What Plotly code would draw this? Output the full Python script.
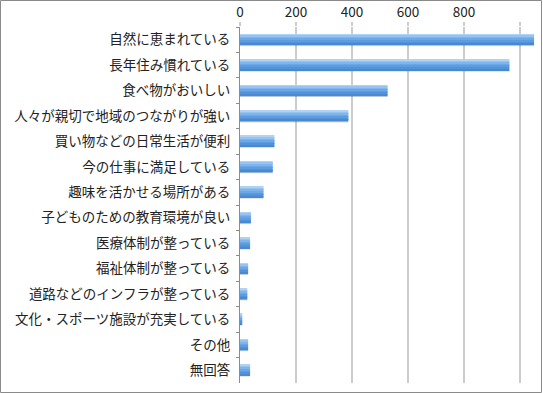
import plotly.graph_objects as go

categories = [
    "自然に恵まれている",
    "長年住み慣れている",
    "食べ物がおいしい",
    "人々が親切で地域のつながりが強い",
    "買い物などの日常生活が便利",
    "今の仕事に満足している",
    "趣味を活かせる場所がある",
    "子どものための教育環境が良い",
    "医療体制が整っている",
    "福祉体制が整っている",
    "道路などのインフラが整っている",
    "文化・スポーツ施設が充実している",
    "その他",
    "無回答",
]
values = [1050, 962, 527, 387, 123, 117, 84, 39, 36, 29, 26, 8, 29, 36]
tick_values = [0, 200, 400, 600, 800, 1000]
tick_labels = ["0", "200", "400", "600", "800", ""]

W, H = 543, 393
ML, MR, MT, MB = 240, 7, 27, 10
PW, PH = W - ML - MR, H - MT - MB

fig = go.Figure()

# gradient bars built from slices (top -> bottom)
bar_w = 0.43
slice_colors = ["#B0D2F3", "#97C3F0", "#80B5EC", "#6CA8E7", "#5C9CE0", "#5192D8", "#4A89CF"]
n = len(slice_colors)
sw = bar_w / n
# shadow
fig.add_trace(go.Bar(
    y=categories, x=values, orientation="h",
    width=0.06, offset=bar_w / 2 - 0.02,
    marker=dict(color="rgba(0,0,0,0.13)", line=dict(width=0)),
    hoverinfo="skip", showlegend=False,
))
for i, c in enumerate(slice_colors):
    fig.add_trace(go.Bar(
        y=categories, x=values, orientation="h",
        width=sw * 1.08, offset=-bar_w / 2 + i * sw,
        marker=dict(color=c, line=dict(width=0)),
        showlegend=False,
    ))

fig.update_layout(
    width=W, height=H,
    margin=dict(l=ML, r=MR, t=MT, b=MB, pad=0, autoexpand=False),
    barmode="overlay",
    paper_bgcolor="white",
    plot_bgcolor="white",
    font=dict(family="Noto Sans CJK JP", size=13.5, color="#222222"),
    xaxis=dict(
        side="top",
        automargin=False,
        range=[0, 1057],
        tickvals=tick_values,
        ticktext=tick_labels,
        showgrid=True, gridcolor="#CCCCCC", gridwidth=2,
        zeroline=False, showline=False,
        ticks="outside", ticklen=4, tickcolor="#CCCCCC", tickwidth=2,
        tickfont=dict(size=13.5, color="#222222"),
    ),
    yaxis=dict(
        type="category",
        automargin=False,
        categoryorder="array", categoryarray=categories,
        range=[len(categories) - 0.5, -0.5],
        showline=True, linecolor="#8C8C8C", linewidth=1,
        ticks="outside", ticklen=3, tickcolor="#8C8C8C",
        tickson="boundaries",
        ticklabelstandoff=6,
        showgrid=False, zeroline=False,
        tickfont=dict(size=13.5, color="#222222"),
    ),
    shapes=[dict(
        type="rect", xref="paper", yref="paper",
        x0=(0.5 - ML) / PW, x1=(W - 1.5 - ML) / PW,
        y0=(0.5 - MB) / PH, y1=(H - 0.5 - MB) / PH,
        line=dict(color="#8A8A8A", width=1), fillcolor="rgba(0,0,0,0)",
        layer="above",
    )],
)

fig.write_html(
    "out.html",
    config={"displayModeBar": False},
    post_script="document.body.style.margin='0';document.body.style.overflow='hidden';",
)
